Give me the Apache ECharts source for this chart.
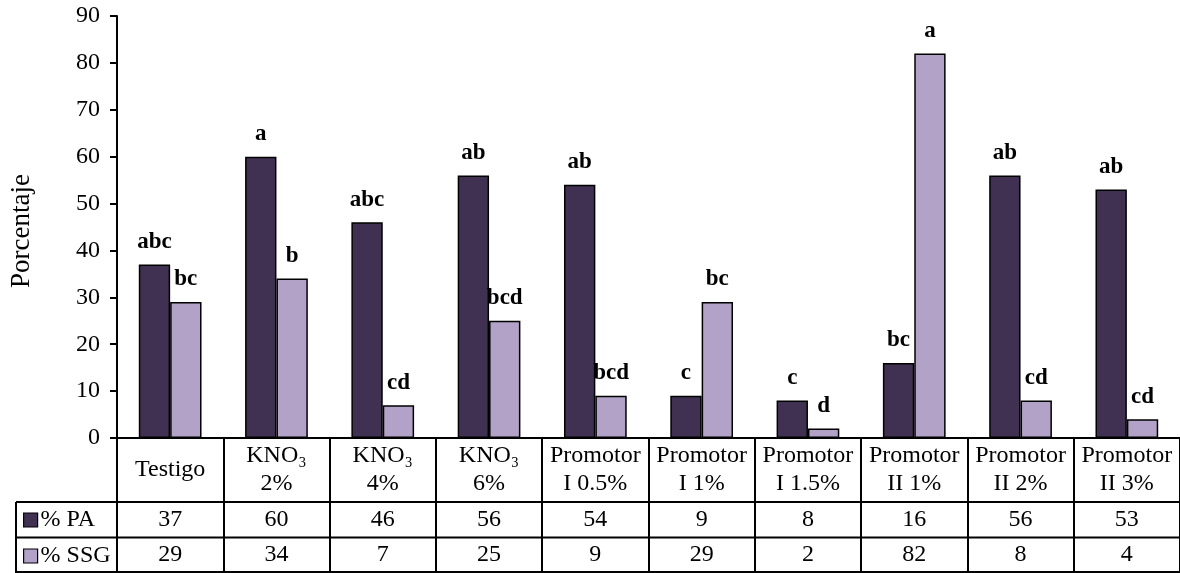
<!DOCTYPE html>
<html>
<head>
<meta charset="utf-8">
<script src="https://cdn.jsdelivr.net/npm/echarts@6/dist/echarts.min.js"></script>
<style>
  html, body { margin: 0; padding: 0; background: #fff; }
  #chart { width: 1180px; height: 573px; }
</style>
</head>
<body>
<div id="chart"></div>
<script>
// Treatments, shown as the header row of the table under the chart
const categories = ['Testigo', 'KNO₃\n2%', 'KNO₃\n4%', 'KNO₃\n6%', 'Promotor\nI 0.5%',
  'Promotor\nI 1%', 'Promotor\nI 1.5%', 'Promotor\nII 1%', 'Promotor\nII 2%', 'Promotor\nII 3%'];
// Percentages per treatment
const paValues = [37, 60, 46, 56, 54, 9, 8, 16, 56, 53];
const ssgValues = [29, 34, 7, 25, 9, 29, 2, 82, 8, 4];
// Significance letters above each bar
const paLetters = ['abc', 'a', 'abc', 'ab', 'ab', 'c', 'c', 'bc', 'ab', 'ab'];
const ssgLetters = ['bc', 'b', 'cd', 'bcd', 'bcd', 'bc', 'd', 'a', 'cd', 'cd'];
const seriesNames = ['% PA', '% SSG'];
const yMin = 0, yMax = 90, yStep = 10;

const FONT = '"Liberation Serif", "Times New Roman", serif';
const FS = 24;
const PA_COLOR = '#403152';
const SSG_COLOR = '#b2a2c7';
const LINE = '#000';

const W = 1180, H = 573;
const plotLeft = 117, plotTop = 16, axisY = 438;
const row1 = 502, row2 = 537.5, tableLeft = 16;

const chart = echarts.init(document.getElementById('chart'), null, { renderer: 'canvas' });

function valueAxis(values, margin) {
  return {
    type: 'category',
    data: categories,
    position: 'bottom',
    gridIndex: 0,
    axisLine: { show: false },
    axisTick: { show: false },
    axisLabel: {
      interval: 0,
      margin: margin,
      verticalAlign: 'middle',
      fontFamily: FONT, fontSize: FS, color: '#000',
      formatter: (v, i) => String(values[i])
    }
  };
}

const option = {
  animation: false,
  backgroundColor: '#fff',
  grid: { left: plotLeft, right: 0, top: plotTop, bottom: H - axisY, containLabel: false },
  legend: {
    orient: 'vertical',
    left: tableLeft + 7,
    top: 508,
    padding: 0,
    itemGap: 12,
    itemWidth: 14,
    itemHeight: 14,
    icon: 'rect',
    itemStyle: { borderColor: '#000', borderWidth: 1.2 },
    textStyle: { fontFamily: FONT, fontSize: FS, color: '#000', lineHeight: 23, padding: [0, 0, 0, -2] },
    data: seriesNames
  },
  xAxis: [
    {
      type: 'category',
      data: categories,
      position: 'bottom',
      axisLine: { show: true, lineStyle: { color: LINE, width: 2 } },
      axisTick: { show: true, interval: 0, length: H - axisY, lineStyle: { color: LINE, width: 2 } },
      axisLabel: {
        interval: 0,
        margin: 32,
        verticalAlign: 'middle',
        lineHeight: 28,
        fontFamily: FONT, fontSize: FS, color: '#000'
      }
    },
    valueAxis(paValues, 82),
    valueAxis(ssgValues, 117)
  ],
  yAxis: {
    type: 'value',
    min: yMin, max: yMax, interval: yStep,
    splitLine: { show: false },
    axisLine: { show: true, lineStyle: { color: LINE, width: 2 } },
    axisTick: { show: true, length: 7, lineStyle: { color: LINE, width: 2 } },
    axisLabel: { margin: 17, fontFamily: FONT, fontSize: FS, color: '#000' }
  },
  series: [
    {
      name: seriesNames[0],
      type: 'bar',
      data: paValues,
      barGap: '0%',
      barCategoryGap: '41%',
      itemStyle: { color: PA_COLOR, borderColor: '#000', borderWidth: 1.5 },
      label: {
        show: true, position: 'top', distance: 11,
        fontFamily: FONT, fontSize: 23, fontWeight: 'bold', color: '#000',
        formatter: p => paLetters[p.dataIndex]
      }
    },
    {
      name: seriesNames[1],
      type: 'bar',
      data: ssgValues,
      barGap: '0%',
      barCategoryGap: '41%',
      itemStyle: { color: SSG_COLOR, borderColor: '#000', borderWidth: 1.5 },
      label: {
        show: true, position: 'top', distance: 11,
        fontFamily: FONT, fontSize: 23, fontWeight: 'bold', color: '#000',
        formatter: p => ssgLetters[p.dataIndex]
      }
    }
  ],
  graphic: [
    // y-axis title
    {
      type: 'text', x: 22, y: 231, rotation: Math.PI / 2,
      style: { text: 'Porcentaje', fontFamily: FONT, fontSize: 27, fill: '#000', align: 'center', verticalAlign: 'middle' }
    },
    // data-table rules
    { type: 'line', shape: { x1: tableLeft, y1: row1, x2: W, y2: row1 }, style: { stroke: LINE, lineWidth: 2 } },
    { type: 'line', shape: { x1: tableLeft, y1: row2, x2: W, y2: row2 }, style: { stroke: LINE, lineWidth: 2 } },
    { type: 'line', shape: { x1: tableLeft, y1: H - 1, x2: W, y2: H - 1 }, style: { stroke: LINE, lineWidth: 2 } },
    { type: 'line', shape: { x1: tableLeft, y1: row1, x2: tableLeft, y2: H }, style: { stroke: LINE, lineWidth: 2 } }
  ]
};

chart.setOption(option);
</script>
</body>
</html>
